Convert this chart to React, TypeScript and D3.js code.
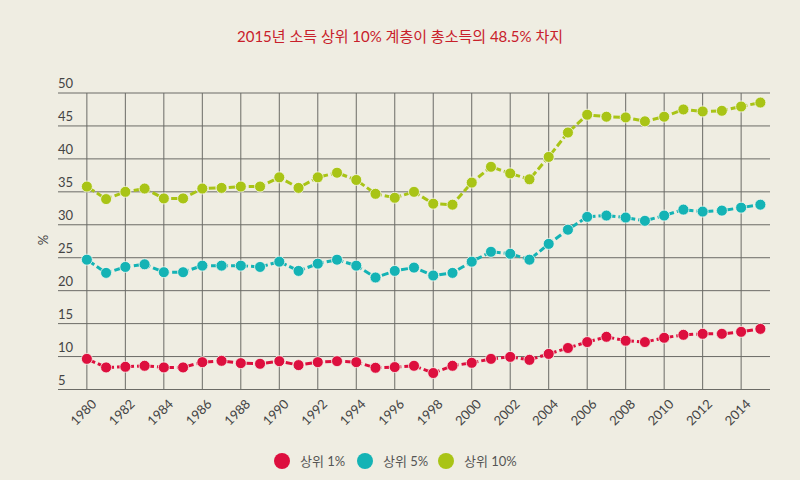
import { useMemo } from 'react';
import * as d3 from 'd3';

const years = d3.range(1980, 2016);

const top1 = [
  9.65, 8.35, 8.45, 8.6, 8.35, 8.35, 9.15, 9.35, 9.0, 8.9,
  9.3, 8.7, 9.15, 9.3, 9.15, 8.3, 8.4, 8.6, 7.5, 8.6,
  9.05, 9.65, 9.95, 9.5, 10.4, 11.3, 12.2, 13.0, 12.4, 12.2,
  12.85, 13.3, 13.45, 13.45, 13.75, 14.2,
];
const top5 = [
  24.7, 22.7, 23.6, 24.0, 22.8, 22.8, 23.8, 23.8, 23.8, 23.6,
  24.4, 23.0, 24.1, 24.7, 23.8, 22.0, 23.0, 23.5, 22.3, 22.7,
  24.4, 25.9, 25.6, 24.7, 27.1, 29.25, 31.2, 31.4, 31.1, 30.6,
  31.4, 32.3, 32.0, 32.15, 32.6, 33.05,
];
const top10 = [
  35.8, 33.9, 35.0, 35.5, 34.0, 34.0, 35.5, 35.6, 35.8, 35.8,
  37.2, 35.6, 37.2, 37.9, 36.8, 34.7, 34.1, 35.0, 33.2, 33.05,
  36.4, 38.8, 37.8, 36.9, 40.3, 44.0, 46.7, 46.4, 46.3, 45.7,
  46.4, 47.5, 47.2, 47.3, 47.95, 48.55,
];

const seriesNames = ['상위 1%', '상위 5%', '상위 10%'];
const seriesColors = ['#dd0f3e', '#14b3b5', '#a9c416'];
const yTicks = [5, 10, 15, 20, 25, 30, 35, 40, 45, 50];
const xTicks = d3.range(1980, 2015, 2);
const title = '2015년 소득 상위 10% 계층이 총소득의 48.5% 차지';

const W = 800;
const H = 480;
const font = 'Lato, "Noto Sans CJK KR", sans-serif';

export default function App() {
  const left = 58;
  const right = 770;
  const top = 93;
  const bottom = 389.5;

  const { x, y, paths } = useMemo(() => {
    const x = d3.scaleLinear().domain([1978.5, 2015.5]).range([left, right]);
    const y = d3.scaleLinear().domain([5, 50]).range([bottom, top]);
    const line = d3
      .line<number>()
      .x((_, i) => x(years[i]))
      .y((d) => y(d));
    const paths = [top1, top5, top10].map((s) => line(s) ?? '');
    return { x, y, paths };
  }, []);

  const all = [top1, top5, top10];

  return (
    <svg
      width={W}
      height={H}
      style={{ position: 'absolute', left: 0, top: 0, background: '#efede2' }}
      fontFamily={font}
    >
      <rect width={W} height={H} fill="#efede2" />
      <text x={400} y={42} textAnchor="middle" fontSize={15} fill="#c8202a">
        {title}
      </text>

      {yTicks.map((t) => (
        <g key={t}>
          <line x1={left} x2={right} y1={y(t)} y2={y(t)} stroke="#6b6b66" strokeWidth={1} />
          <text x={left} y={y(t) - 5} fontSize={13} fill="#444">
            {t}
          </text>
        </g>
      ))}
      {xTicks.map((t) => (
        <g key={t}>
          <line x1={x(t)} x2={x(t)} y1={top} y2={bottom} stroke="#6b6b66" strokeWidth={1} />
          <text
            transform={`translate(${x(t) + 3},${bottom + 8}) rotate(-45)`}
            textAnchor="end"
            dominantBaseline="hanging"
            fontSize={13}
            fill="#444"
          >
            {t}
          </text>
        </g>
      ))}
      <text
        transform={`translate(48,240) rotate(-90)`}
        textAnchor="middle"
        fontSize={13}
        fill="#444"
      >
        %
      </text>

      {all.map((s, k) => (
        <g key={k}>
          <path
            d={paths[k]}
            fill="none"
            stroke={seriesColors[k]}
            strokeWidth={3}
            strokeDasharray="7 3"
            strokeDashoffset={-2}
          />
          {s.map((v, i) => (
            <circle
              key={i}
              cx={x(years[i])}
              cy={y(v)}
              r={5.5}
              fill={seriesColors[k]}
              stroke="#f6f6ee"
              strokeOpacity={0.8}
              strokeWidth={1}
            />
          ))}
        </g>
      ))}

      {seriesNames.map((n, k) => {
        const lx = [282, 365, 446][k];
        return (
          <g key={n}>
            <circle cx={lx} cy={461} r={8} fill={seriesColors[k]} />
            <text x={lx + 18} y={466} fontSize={13} fill="#555">
              {n}
            </text>
          </g>
        );
      })}
    </svg>
  );
}
